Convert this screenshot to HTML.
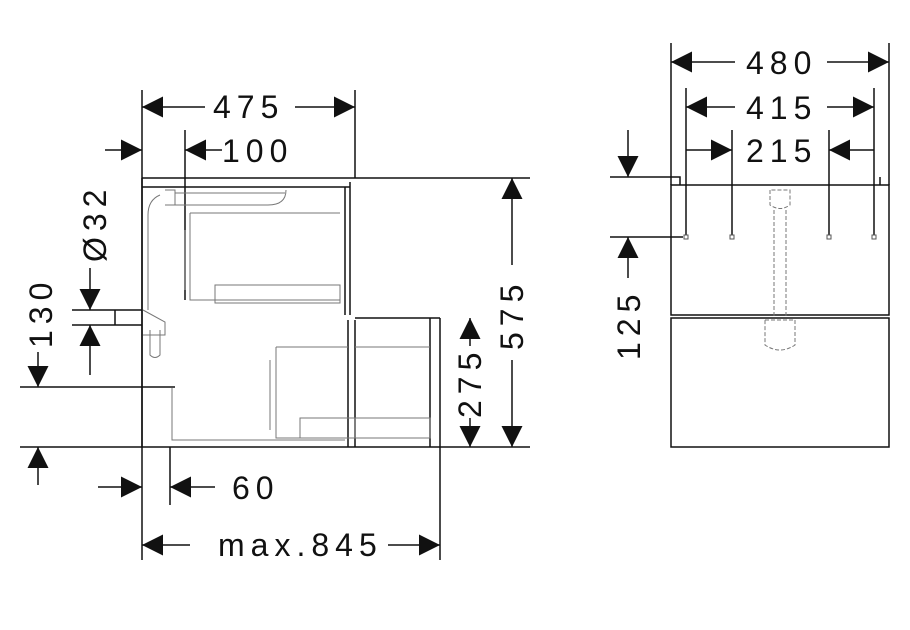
<!DOCTYPE html>
<html><head><meta charset="utf-8"><style>
html,body{margin:0;padding:0;background:#fff}
svg{display:block}
text{font-family:"Liberation Sans",sans-serif;font-size:32px;fill:#111;letter-spacing:6px}
</style></head><body>
<svg width="910" height="630" viewBox="0 0 910 630" xmlns="http://www.w3.org/2000/svg">
<defs>
<marker id="a" viewBox="0 0 10 10" refX="10" refY="5" markerWidth="21" markerHeight="21" markerUnits="userSpaceOnUse" orient="auto"><path d="M0,0L10,5L0,10z" fill="#111"/></marker>
</defs>
<g stroke="#111" stroke-width="1.5" fill="none">
<path d="M142 90V560M355 90V178M440 447V560M170 447V505M185 130V300"/>
<path d="M142 178H530M142 187H350M142 178V447M20 447H530M20 387H175M72 310H142M72 325H142M115 310V325"/>
<path d="M345 187V315M350 182V315M348 320V447M355 320V447M355 318H440M440 318V447M430 318V447"/>
</g>
<g stroke="#777" stroke-width="1" fill="none">
<path d="M165 190H175V205H165M160 195Q148 200 148 215V310M165 205H268Q286 205 286 190M175 193H285"/>
<path d="M190 213H340M190 213V300H340M185 230V290M215 285H340V303H215z"/>
<path d="M143 310L165 322V335H143M150 330V355Q155 360 160 355V330"/>
<path d="M276 347H348M276 347V438H348M270 360V430M300 418H355V438H300zM355 418H430V438H355z"/>
<path d="M172 388V440H345M355 347H430"/>
</g>
<g stroke="#111" stroke-width="1.5" marker-end="url(#a)">
<line x1="205" y1="107" x2="142" y2="107"/>
<line x1="295" y1="107" x2="355" y2="107"/>
<line x1="105" y1="150" x2="142" y2="150"/>
<line x1="222" y1="150" x2="185" y2="150"/>
<line x1="90" y1="268" x2="90" y2="310"/>
<line x1="90" y1="375" x2="90" y2="325"/>
<line x1="38" y1="352" x2="38" y2="387"/>
<line x1="38" y1="485" x2="38" y2="447"/>
<line x1="512" y1="265" x2="512" y2="178"/>
<line x1="512" y1="360" x2="512" y2="447"/>
<line x1="470" y1="346" x2="470" y2="318"/>
<line x1="470" y1="418" x2="470" y2="447"/>
<line x1="98" y1="487" x2="142" y2="487"/>
<line x1="215" y1="487" x2="170" y2="487"/>
<line x1="190" y1="545" x2="142" y2="545"/>
<line x1="388" y1="545" x2="440" y2="545"/>
</g>
<text x="213" y="118">475</text>
<text x="222" y="162">100</text>
<text x="232" y="499">60</text>
<text x="218" y="556">max.845</text>
<text transform="translate(106,262) rotate(-90)">Ø32</text>
<text transform="translate(52,348) rotate(-90)">130</text>
<text transform="translate(523,350) rotate(-90)">575</text>
<text transform="translate(481,418) rotate(-90)">275</text>
<g stroke="#111" stroke-width="1.5" fill="none">
<path d="M671 43V185M889 43V185M686 88V237M874 88V237M732 130V237M829 130V237"/>
<path d="M610 177H680V185M880 185V177M671 185H889V315H671zM671 318H889V447H671z M610 237H683"/>
</g>
<g fill="#fff" stroke="#555" stroke-width="1"><rect x="684" y="235" width="4" height="4"/><rect x="730" y="235" width="4" height="4"/><rect x="827" y="235" width="4" height="4"/><rect x="872" y="235" width="4" height="4"/></g>
<g stroke="#777" stroke-width="1" fill="none" stroke-dasharray="4 2">
<path d="M770 190V205Q780 212 790 205V190zM774 210V318M786 210V318M765 320H795V345Q780 355 765 345z"/>
</g>
<g stroke="#111" stroke-width="1.5" marker-end="url(#a)">
<line x1="735" y1="62" x2="671" y2="62"/>
<line x1="827" y1="62" x2="889" y2="62"/>
<line x1="735" y1="107" x2="686" y2="107"/>
<line x1="827" y1="107" x2="874" y2="107"/>
<line x1="686" y1="150" x2="732" y2="150"/>
<line x1="874" y1="150" x2="829" y2="150"/>
<line x1="628" y1="130" x2="628" y2="177"/>
<line x1="628" y1="278" x2="628" y2="237"/>
</g>
<text x="746" y="74">480</text>
<text x="746" y="119">415</text>
<text x="746" y="162">215</text>
<text transform="translate(640,360) rotate(-90)">125</text>
</svg>
</body></html>
